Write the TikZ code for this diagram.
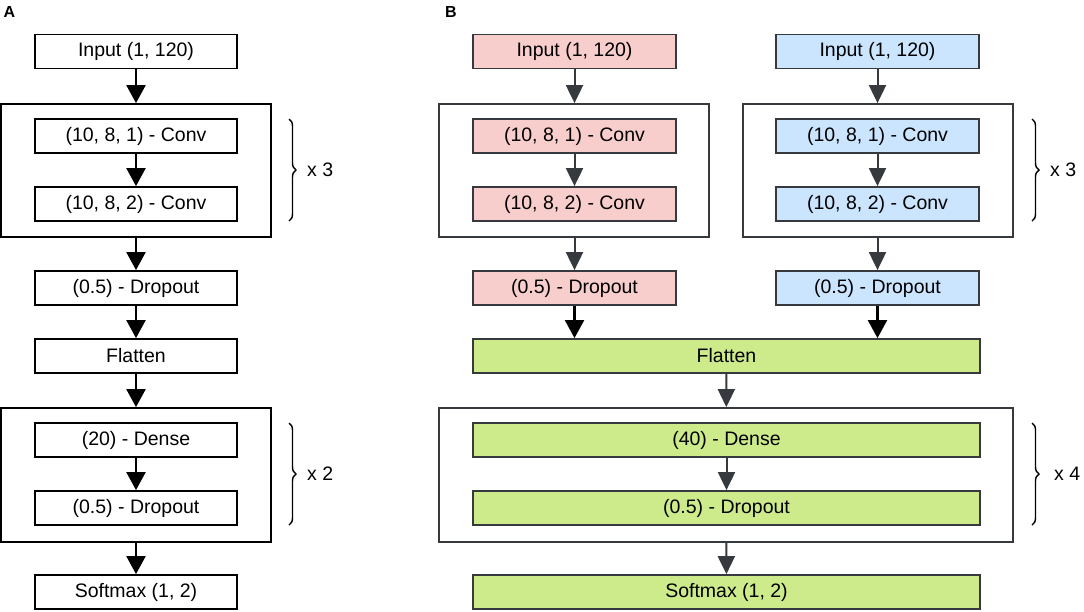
\documentclass[tikz,border=0pt]{standalone}
\usepackage{fontspec}
\setmainfont{Liberation Sans}
\usetikzlibrary{arrows.meta,decorations.pathreplacing}
\definecolor{pinkf}{HTML}{F8CECC}
\definecolor{bluef}{HTML}{CCE5FF}
\definecolor{greenf}{HTML}{CDEB8B}
\definecolor{edgeg}{HTML}{36393D}
\begin{document}
\begin{tikzpicture}[x=1pt,y=-1pt,
  txt/.style={font=\fontsize{19.5}{23}\selectfont},
  boxA/.style={txt,draw=black,line width=1.8pt,minimum width=202pt,minimum height=34pt,inner sep=0pt},
  grpA/.style={draw=black,line width=1.8pt,inner sep=0pt},
  boxB/.style={txt,draw=edgeg,line width=1.8pt,minimum width=203pt,minimum height=34pt,inner sep=0pt},
  grpB/.style={draw=edgeg,line width=1.8pt,inner sep=0pt},
  arrA/.style={draw=black,line width=2.2pt,-{Triangle[width=19pt,length=18pt]}},
  arrB/.style={draw=edgeg,line width=2pt,-{Triangle[width=17pt,length=18pt]}},
  brc/.style={draw=black,line width=1.4pt,decorate,decoration={brace,amplitude=7pt}},
  panel/.style={font=\fontsize{16}{18}\selectfont\bfseries}
]
\useasboundingbox (0,0) rectangle (1084,611);
\node[panel] (lA) at (9.5,12) {A};
\node[panel] (lB) at (451,12) {B};
% Panel A
\node[grpA,minimum width=270pt,minimum height=133pt] (ag1) at (136,170.5) {};
\node[grpA,minimum width=270pt,minimum height=134pt] (ag2) at (136,475) {};
\node[boxA] (ain) at (136,51.5) {Input (1, 120)};
\node[boxA] (ac1) at (136,136) {(10, 8, 1) - Conv};
\node[boxA] (ac2) at (136,204) {(10, 8, 2) - Conv};
\node[boxA] (ado) at (136,288) {(0.5) - Dropout};
\node[boxA] (afl) at (136,356) {Flatten};
\node[boxA] (ade) at (136,440) {(20) - Dense};
\node[boxA] (ado2) at (136,508) {(0.5) - Dropout};
\node[boxA] (asm) at (136,592) {Softmax (1, 2)};
\draw[arrA] (ain) -- (ag1);
\draw[arrA] (ac1) -- (ac2);
\draw[arrA] (ag1) -- (ado);
\draw[arrA] (ado) -- (afl);
\draw[arrA] (afl) -- (ag2);
\draw[arrA] (ade) -- (ado2);
\draw[arrA] (ag2) -- (asm);
\coordinate (abr1t) at (289,119);
\coordinate (abr1b) at (289,221);
\coordinate (abr2t) at (289,423);
\coordinate (abr2b) at (289,525);
\draw[brc] (abr1t) -- (abr1b);
\draw[brc] (abr2t) -- (abr2b);
\node[txt,anchor=west,inner sep=0pt] (ax3) at (307,170) {x 3};
\node[txt,anchor=west,inner sep=0pt] (ax2) at (307,474) {x 2};
% Panel B
\node[grpB,minimum width=270pt,minimum height=133pt] (bgP) at (574,170.5) {};
\node[grpB,minimum width=270pt,minimum height=133pt] (bgQ) at (878,170.5) {};
\node[grpB,minimum width=574pt,minimum height=134pt] (bg2) at (726,475) {};
\node[boxB,fill=pinkf] (binP) at (574.5,51.5) {Input (1, 120)};
\node[boxB,fill=pinkf] (bc1P) at (574.5,136) {(10, 8, 1) - Conv};
\node[boxB,fill=pinkf] (bc2P) at (574.5,204) {(10, 8, 2) - Conv};
\node[boxB,fill=pinkf] (bdoP) at (574.5,288) {(0.5) - Dropout};
\node[boxB,fill=bluef] (binQ) at (877.5,51.5) {Input (1, 120)};
\node[boxB,fill=bluef] (bc1Q) at (877.5,136) {(10, 8, 1) - Conv};
\node[boxB,fill=bluef] (bc2Q) at (877.5,204) {(10, 8, 2) - Conv};
\node[boxB,fill=bluef] (bdoQ) at (877.5,288) {(0.5) - Dropout};
\node[boxB,fill=greenf,minimum width=507pt] (bfl) at (726.5,356) {Flatten};
\node[boxB,fill=greenf,minimum width=507pt] (bde) at (726.5,440) {(40) - Dense};
\node[boxB,fill=greenf,minimum width=507pt] (bdo2) at (726.5,508) {(0.5) - Dropout};
\node[boxB,fill=greenf,minimum width=507pt] (bsm) at (726.5,592) {Softmax (1, 2)};
\draw[arrB] (binP) -- (binP |- bgP.north);
\draw[arrB] (bc1P) -- (bc2P);
\draw[arrB] (bc2P |- bgP.south) -- (bdoP);
\draw[arrB] (binQ) -- (binQ |- bgQ.north);
\draw[arrB] (bc1Q) -- (bc2Q);
\draw[arrB] (bc2Q |- bgQ.south) -- (bdoQ);
\draw[arrA] (bdoP) -- (bdoP |- bfl.north);
\draw[arrA] (bdoQ) -- (bdoQ |- bfl.north);
\draw[arrB] (bfl) -- (bg2);
\draw[arrB] (bde) -- (bdo2);
\draw[arrB] (bg2) -- (bsm);
\coordinate (bbr1t) at (1032,119);
\coordinate (bbr1b) at (1032,221);
\coordinate (bbr2t) at (1032,423);
\coordinate (bbr2b) at (1032,525);
\draw[brc] (bbr1t) -- (bbr1b);
\draw[brc] (bbr2t) -- (bbr2b);
\node[txt,anchor=west,inner sep=0pt] (bx3) at (1050,170) {x 3};
\node[txt,anchor=west,inner sep=0pt] (bx4) at (1054,474) {x 4};
\end{tikzpicture}
\end{document}
